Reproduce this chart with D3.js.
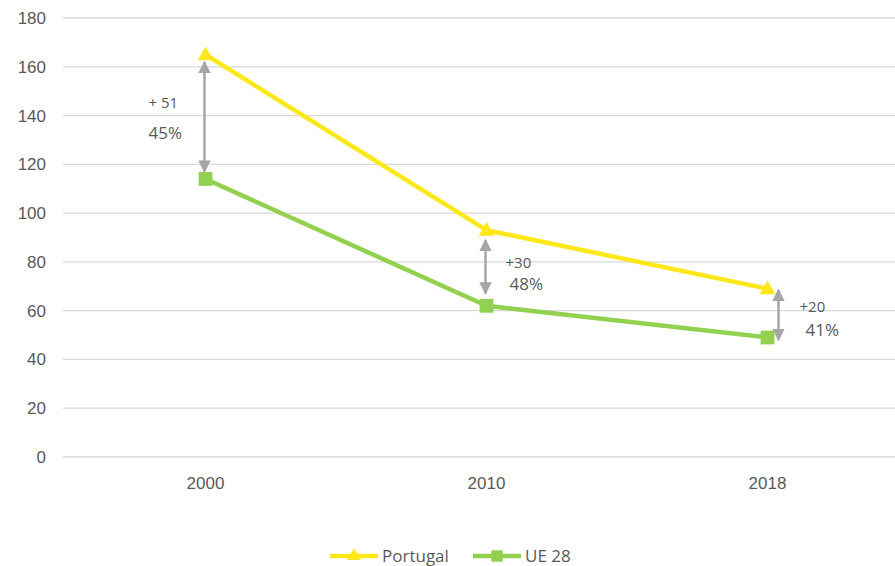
<!DOCTYPE html>
<html>
<head>
<meta charset="utf-8">
<script src="https://cdn.jsdelivr.net/npm/d3@7"></script>
<style>
  body { margin: 0; background: #fff; }
  svg { display: block; font-family: "Open Sans", "Liberation Sans", sans-serif; }
</style>
</head>
<body>
<svg id="chart"></svg>
<script>
"use strict";

const width = 895;
const height = 566;

// data
const years = ["2000", "2010", "2018"];
const portugal = [165, 93, 69];
const ue28 = [114, 62, 49];
const yTicks = [0, 20, 40, 60, 80, 100, 120, 140, 160, 180];
const diffLabels = ["+ 51", "+30", "+20"];
const pctLabels = ["45%", "48%", "41%"];

const yellow = "#FFE81A";
const green = "#92D050";
const grey = "#A6A6A6";
const textColor = "#595959";

let svg = d3.select("#chart").attr("width", width).attr("height", height);

let x = d3.scaleBand().domain(years).range([65, 908]);
let y = d3.scaleLinear().domain([0, 180]).range([457, 18]);
let cx = d => x(d) + x.bandwidth() / 2;

// gridlines
svg.append("g").selectAll("line")
  .data(yTicks)
  .enter().append("line")
  .attr("x1", 63).attr("x2", width)
  .attr("y1", d => y(d)).attr("y2", d => y(d))
  .attr("stroke", "#D9D9D9").attr("stroke-width", 1.3);

// y axis labels
let yAxis = svg.append("g")
  .attr("transform", "translate(46,0)")
  .call(d3.axisLeft(y).tickValues(yTicks).tickSize(0).tickPadding(0));
yAxis.select(".domain").remove();
yAxis.selectAll("text").attr("fill", textColor).style("font-size", "17px");

// x axis labels
let xAxis = svg.append("g")
  .attr("transform", "translate(0,474)")
  .call(d3.axisBottom(x).tickSize(0).tickPadding(3));
xAxis.select(".domain").remove();
xAxis.selectAll("text").attr("fill", textColor).style("font-size", "17px");

// arrow heads
let defs = svg.append("defs");
defs.append("marker")
  .attr("id", "head")
  .attr("viewBox", "0 0 10 10")
  .attr("refX", 9).attr("refY", 5)
  .attr("markerWidth", 5).attr("markerHeight", 5)
  .attr("markerUnits", "strokeWidth")
  .attr("orient", "auto-start-reverse")
  .append("path").attr("d", "M0,0L10,5L0,10z").attr("fill", grey);

// gap annotations (arrow x offsets relative to category centre)
const arrowShift = [-1, -1, 11];
const arrowTop = [162, 89, 68.5];
const arrowBottom = [117, 67, 48];

let ann = svg.append("g");
years.forEach((yr, i) => {
  ann.append("line")
    .attr("x1", cx(yr) + arrowShift[i]).attr("x2", cx(yr) + arrowShift[i])
    .attr("y1", y(arrowTop[i])).attr("y2", y(arrowBottom[i]))
    .attr("stroke", grey).attr("stroke-width", 2.5)
    .attr("marker-start", "url(#head)")
    .attr("marker-end", "url(#head)");
});

// text labels placed beside each arrow
const diffPos = [[-57, 108], [19, 268], [32, 312]];
const pctPos = [[-57, 139], [23, 290], [38, 336]];
years.forEach((yr, i) => {
  ann.append("text")
    .attr("x", cx(yr) + diffPos[i][0]).attr("y", diffPos[i][1])
    .attr("fill", textColor).style("font-size", "15px")
    .text(diffLabels[i]);
  ann.append("text")
    .attr("x", cx(yr) + pctPos[i][0]).attr("y", pctPos[i][1])
    .attr("fill", textColor).style("font-size", "17px")
    .text(pctLabels[i]);
});

// lines
let line = d3.line().x((d, i) => cx(years[i])).y(d => y(d));

svg.append("path").datum(ue28)
  .attr("d", line).attr("fill", "none")
  .attr("stroke", green).attr("stroke-width", 4.5).attr("stroke-linejoin", "round");

svg.append("path").datum(portugal)
  .attr("d", line).attr("fill", "none")
  .attr("stroke", yellow).attr("stroke-width", 4.5).attr("stroke-linejoin", "round");

let tri = d3.symbol().type(d3.symbolTriangle).size(110);
let sq = d3.symbol().type(d3.symbolSquare).size(190);

svg.append("g").selectAll("path")
  .data(portugal).enter().append("path")
  .attr("d", tri)
  .attr("transform", (d, i) => `translate(${cx(years[i])},${y(d) + 1})`)
  .attr("fill", yellow);

svg.append("g").selectAll("path")
  .data(ue28).enter().append("path")
  .attr("d", sq)
  .attr("transform", (d, i) => `translate(${cx(years[i])},${y(d)})`)
  .attr("fill", green);

// legend
const series = [
  { name: "Portugal", color: yellow, shape: d3.symbolTriangle, size: 80, x: 330 },
  { name: "UE 28", color: green, shape: d3.symbolSquare, size: 130, x: 473 }
];
let legend = svg.append("g").attr("transform", "translate(0,556)");
series.forEach(s => {
  legend.append("line")
    .attr("x1", s.x).attr("x2", s.x + 48)
    .attr("stroke", s.color).attr("stroke-width", 4.5);
  legend.append("path")
    .attr("d", d3.symbol().type(s.shape).size(s.size)())
    .attr("transform", `translate(${s.x + 24},0)`)
    .attr("fill", s.color);
  legend.append("text")
    .attr("x", s.x + 52).attr("y", 6)
    .attr("fill", textColor).style("font-size", "17px")
    .text(s.name);
});
</script>
</body>
</html>
